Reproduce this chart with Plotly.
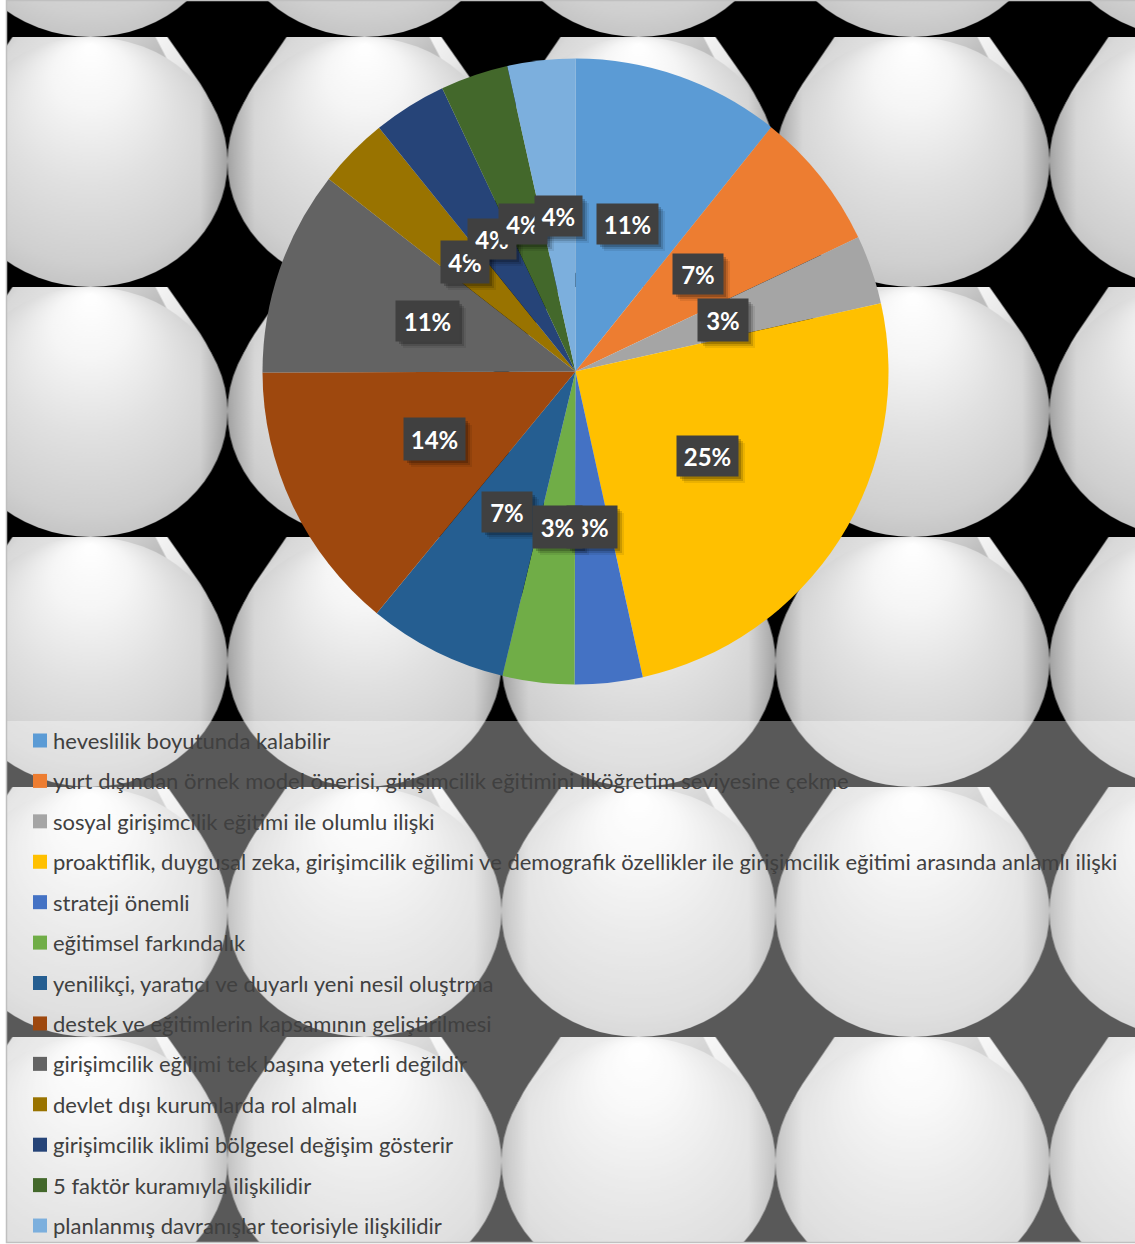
import base64
import plotly.graph_objects as go

categories = [
    "heveslilik boyutunda kalabilir",
    "yurt dışından örnek model önerisi, girişimcilik eğitimini ilköğretim seviyesine çekme",
    "sosyal girişimcilik eğitimi ile olumlu ilişki",
    "proaktiflik, duygusal zeka, girişimcilik eğilimi ve demografik özellikler ile girişimcilik eğitimi arasında anlamlı ilişki",
    "strateji önemli",
    "eğitimsel farkındalık",
    "yenilikçi, yaratıcı ve duyarlı yeni nesil oluştrma",
    "destek ve eğitimlerin kapsamının geliştirilmesi",
    "girişimcilik eğilimi tek başına yeterli değildir",
    "devlet dışı kurumlarda rol almalı",
    "girişimcilik iklimi bölgesel değişim gösterir",
    "5 faktör kuramıyla ilişkilidir",
    "planlanmış davranışlar teorisiyle ilişkilidir",
]
values = [10.75, 7.2, 3.55, 25.05, 3.5, 3.7, 7.2, 14.0, 10.6, 3.65, 3.8, 3.5, 3.5]
percent_labels = ["11%", "7%", "3%", "25%", "3%", "3%", "7%", "14%", "11%", "4%", "4%", "4%", "4%"]
colors = ["#5B9BD5", "#ED7D31", "#A5A5A5", "#FFC000", "#4472C4", "#70AD47", "#255E91",
          "#9E480E", "#636363", "#997300", "#264478", "#43682B", "#7CAFDD"]

W, H = 1135, 1244
# label boxes in page pixels: left, top, right, bottom
label_boxes = [
    (597, 204, 658, 244), (673, 254, 723, 294), (698, 299, 748, 341), (677, 436, 738, 476),
    (567, 506, 617, 548), (533, 506, 582, 548), (482, 492, 532, 532), (404, 418, 465, 460),
    (396, 301, 459, 341), (441, 241, 489, 283), (468, 219, 516, 259), (499, 204, 547, 244),
    (535, 196, 582, 236),
]

def px(x):
    return x / W

def py(y):
    return 1 - y / H

tile_svg = f"""<svg xmlns="http://www.w3.org/2000/svg" width="{W}" height="{H}" viewBox="0 0 {W} {H}">
<defs>
<radialGradient id="s" cx="50%" cy="50%" r="56%" fx="50%" fy="3%">
<stop offset="0" stop-color="#ffffff"/><stop offset="0.25" stop-color="#f5f5f5"/>
<stop offset="0.55" stop-color="#e0e0e0"/><stop offset="0.85" stop-color="#cfcfcf"/>
<stop offset="1" stop-color="#bfbfbf"/></radialGradient>
<linearGradient id="r" x1="0" y1="0" x2="1" y2="0">
<stop offset="0" stop-color="#000" stop-opacity="0.2"/><stop offset="0.1" stop-color="#000" stop-opacity="0"/>
<stop offset="0.9" stop-color="#000" stop-opacity="0"/><stop offset="1" stop-color="#000" stop-opacity="0.2"/></linearGradient>
<linearGradient id="t" x1="0" y1="0" x2="1" y2="0.35">
<stop offset="0" stop-color="#9c9c9c"/><stop offset="0.22" stop-color="#d8d8d8"/>
<stop offset="0.62" stop-color="#f8f8f8"/><stop offset="0.8" stop-color="#e8e8e8"/>
<stop offset="1" stop-color="#b8b8b8"/></linearGradient>
<linearGradient id="w" x1="0" y1="0" x2="1" y2="0.3">
<stop offset="0" stop-color="#e6e6e6"/><stop offset="1" stop-color="#bdbdbd"/></linearGradient>
<pattern id="p" x="-46.5" y="-213" width="274" height="250" patternUnits="userSpaceOnUse">
<path d="M59,0 L214,0 L247,47 C262,70 270,95 274,125 L0,125 C4,95 12,70 27,47 Z" fill="url(#t)"/>
<path d="M120,0 L202,0 L214,23 L150,10 Z" fill="url(#w)"/>
<ellipse cx="137" cy="125" rx="137" ry="125" fill="url(#s)"/>
<ellipse cx="137" cy="125" rx="137" ry="125" fill="url(#r)"/>
</pattern>
</defs>
<rect x="7" y="0" width="{W}" height="1242" fill="#000"/>
<rect x="7" y="0" width="{W}" height="1242" fill="url(#p)"/>
</svg>"""
tile_uri = "data:image/svg+xml;base64," + base64.b64encode(tile_svg.encode()).decode()

fig = go.Figure(go.Pie(
    labels=categories,
    values=values,
    marker=dict(colors=colors, line=dict(width=0)),
    sort=False,
    direction="clockwise",
    rotation=0,
    textinfo="none",
    hoverinfo="label+percent",
    showlegend=False,
    domain=dict(x=[px(262.5), px(888.5)], y=[py(684.5), py(58.5)]),
))

shapes = [
    dict(type="rect", xref="paper", yref="paper", x0=px(7), x1=1, y0=py(1242), y1=py(721),
         fillcolor="rgba(255,255,255,0.35)", line=dict(width=0), layer="below"),
    dict(type="rect", xref="paper", yref="paper", x0=px(6.5), x1=px(1140), y0=py(1242.5), y1=py(0.5),
         fillcolor="rgba(0,0,0,0)", line=dict(color="#c0c0c0", width=1.5), layer="below"),
]
annotations = []

# data labels with soft shadows
for text, (l, t, r, b) in zip(percent_labels, label_boxes):
    for off, a in ((7, 0.08), (5, 0.14), (3, 0.2)):
        shapes.append(dict(type="rect", xref="paper", yref="paper",
                           x0=px(l + off), x1=px(r + off), y0=py(b + off), y1=py(t + off),
                           fillcolor=f"rgba(0,0,0,{a})", line=dict(width=0), layer="above"))
for text, (l, t, r, b) in zip(percent_labels, label_boxes):
    annotations.append(dict(
        xref="paper", yref="paper", x=px((l + r) / 2), y=py((t + b) / 2),
        xanchor="center", yanchor="middle", showarrow=False, text=f"<b>{text}</b>",
        width=r - l, height=b - t, borderpad=0, align="center", valign="middle",
        bgcolor="#404040", font=dict(family="Lato", size=24, color="#ffffff"),
    ))

# legend
LEG_Y0, LEG_STEP = 740.5, 40.42
for i, (name, col) in enumerate(zip(categories, colors)):
    yc = LEG_Y0 + i * LEG_STEP
    shapes.append(dict(type="rect", xref="paper", yref="paper", x0=px(33), x1=px(47),
                       y0=py(yc + 7), y1=py(yc - 7), fillcolor=col, line=dict(width=0), layer="above"))
    annotations.append(dict(
        xref="paper", yref="paper", x=px(52), y=py(yc), xanchor="left", yanchor="middle",
        showarrow=False, text=name, align="left", borderpad=0,
        font=dict(family="Lato", size=22, color="#404040"),
    ))

fig.update_layout(
    width=W, height=H, margin=dict(l=0, r=0, t=0, b=0), autosize=False,
    paper_bgcolor="#ffffff", showlegend=False,
    images=[dict(source=tile_uri, xref="paper", yref="paper", x=0, y=1, sizex=1, sizey=1,
                 sizing="stretch", xanchor="left", yanchor="top", layer="below")],
    shapes=shapes, annotations=annotations,
)
fig.write_html("out.html", config={"displayModeBar": False},
               post_script="document.body.style.margin='0';document.body.style.overflow='hidden';")
